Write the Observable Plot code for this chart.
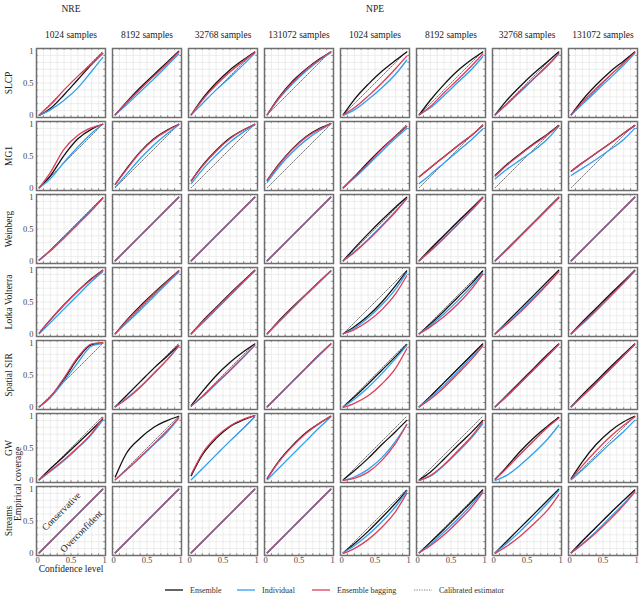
<!DOCTYPE html>
<html>
<head>
<meta charset="utf-8">
<script src="https://cdn.jsdelivr.net/npm/d3@7"></script>
<script src="https://cdn.jsdelivr.net/npm/@observablehq/plot@0.6"></script>
<style>
  html, body { margin: 0; padding: 0; background: #fff; }
  #wrap { position: relative; width: 640px; height: 596px; font-family: "Liberation Serif", "DejaVu Serif", serif; }
  #chart svg, #chart svg text { font-family: "Liberation Serif", "DejaVu Serif", serif !important; }
  #legend { position: absolute; left: 0; top: 583px; width: 640px; height: 14px; font-size: 8px; color: #333; }
  .item { position: absolute; top: 0; display: flex; align-items: center; height: 14px; }
  .item svg { margin-right: 7px; }
</style>
</head>
<body>
<div id="wrap"><div id="chart"></div><div id="legend"></div></div>
<script>
// ---- data ----
const levels = [0.04, 0.2, 0.4, 0.6, 0.8, 0.96];
const rows = ["SLCP", "MG1", "Weinberg", "Lotka Volterra", "Spatial SIR", "GW", "Streams"];
const estimators = ["NRE", "NPE"];
const budgets = [1024, 8192, 32768, 131072];
const methodNames = ["Ensemble", "Individual", "Ensemble bagging"];
const axisTicks = [0, 0.5, 1];
const minorTicks = [0.1, 0.2, 0.3, 0.4, 0.5, 0.6, 0.7, 0.8, 0.9];

// columns: NRE 1024, 8192, 32768, 131072, NPE 1024, 8192, 32768, 131072
const slcpEnsemble = [
  [0.03,0.13,0.33,0.55,0.77,0.93],[0.04,0.22,0.43,0.62,0.81,0.96],[0.04,0.27,0.50,0.69,0.84,0.95],[0.04,0.28,0.52,0.70,0.85,0.95],
  [0.04,0.26,0.48,0.67,0.83,0.95],[0.04,0.25,0.48,0.68,0.84,0.95],[0.04,0.24,0.45,0.64,0.81,0.95],[0.04,0.25,0.47,0.66,0.82,0.95]];
const slcpIndividual = [
  [0.03,0.11,0.25,0.43,0.67,0.87],[0.04,0.18,0.37,0.56,0.76,0.92],[0.04,0.20,0.40,0.58,0.77,0.93],[0.04,0.26,0.48,0.67,0.83,0.94],
  [0.03,0.11,0.26,0.43,0.63,0.83],[0.04,0.14,0.32,0.51,0.70,0.88],[0.04,0.18,0.37,0.56,0.75,0.92],[0.04,0.19,0.38,0.57,0.76,0.93]];
const slcpBagging = [
  [0.04,0.18,0.40,0.60,0.78,0.93],[0.04,0.21,0.41,0.60,0.79,0.95],[0.04,0.25,0.47,0.66,0.82,0.94],[0.04,0.27,0.50,0.69,0.84,0.95],
  [0.04,0.14,0.31,0.50,0.71,0.89],[0.04,0.16,0.36,0.55,0.75,0.92],[0.04,0.19,0.38,0.57,0.76,0.93],[0.04,0.22,0.42,0.61,0.79,0.94]];

const mg1Ensemble = [
  [0.04,0.21,0.51,0.75,0.89,0.96],[0.09,0.31,0.56,0.75,0.88,0.96],[0.14,0.36,0.58,0.76,0.88,0.96],[0.15,0.37,0.60,0.78,0.90,0.97],
  [0.04,0.20,0.41,0.61,0.79,0.93],[0.20,0.33,0.49,0.65,0.80,0.94],[0.22,0.37,0.53,0.68,0.82,0.94],[0.28,0.40,0.54,0.68,0.83,0.94]];
const mg1Individual = [
  [0.04,0.17,0.41,0.63,0.83,0.96],[0.05,0.23,0.46,0.66,0.83,0.95],[0.10,0.30,0.51,0.70,0.85,0.95],[0.12,0.33,0.55,0.73,0.87,0.96],
  [0.04,0.18,0.37,0.57,0.76,0.90],[0.10,0.23,0.40,0.57,0.74,0.89],[0.17,0.30,0.44,0.58,0.75,0.93],[0.22,0.32,0.45,0.59,0.74,0.90]];
const mg1Bagging = [
  [0.04,0.26,0.60,0.80,0.91,0.96],[0.09,0.30,0.55,0.74,0.87,0.96],[0.14,0.35,0.57,0.75,0.88,0.96],[0.15,0.36,0.59,0.77,0.89,0.97],
  [0.04,0.19,0.39,0.60,0.79,0.93],[0.20,0.33,0.49,0.65,0.80,0.95],[0.21,0.36,0.52,0.67,0.81,0.94],[0.28,0.40,0.54,0.68,0.83,0.94]];

const weinbergEnsemble = [
  [0.05,0.19,0.38,0.58,0.78,0.95],[0.04,0.20,0.40,0.60,0.80,0.96],[0.04,0.20,0.40,0.60,0.80,0.96],[0.04,0.20,0.40,0.60,0.80,0.96],
  [0.04,0.22,0.43,0.63,0.82,0.96],[0.04,0.21,0.41,0.61,0.80,0.96],[0.04,0.20,0.40,0.60,0.80,0.96],[0.04,0.20,0.40,0.60,0.80,0.96]];
const weinbergIndividual = [
  [0.05,0.19,0.38,0.58,0.78,0.95],[0.04,0.20,0.40,0.60,0.80,0.96],[0.04,0.20,0.40,0.60,0.80,0.96],[0.04,0.20,0.40,0.60,0.80,0.96],
  [0.04,0.17,0.35,0.55,0.76,0.94],[0.04,0.18,0.37,0.57,0.77,0.95],[0.04,0.19,0.39,0.59,0.79,0.95],[0.04,0.20,0.40,0.60,0.80,0.96]];
const weinbergBagging = [
  [0.05,0.18,0.37,0.57,0.77,0.95],[0.04,0.20,0.40,0.60,0.80,0.96],[0.04,0.20,0.40,0.60,0.80,0.96],[0.04,0.20,0.40,0.60,0.80,0.96],
  [0.04,0.16,0.34,0.54,0.75,0.94],[0.04,0.18,0.37,0.57,0.78,0.95],[0.04,0.19,0.39,0.59,0.79,0.95],[0.04,0.20,0.40,0.60,0.80,0.96]];

const lotkaEnsemble = [
  [0.05,0.24,0.46,0.66,0.84,0.96],[0.04,0.23,0.44,0.63,0.81,0.95],[0.04,0.22,0.42,0.62,0.81,0.96],[0.04,0.22,0.42,0.61,0.80,0.95],
  [0.04,0.14,0.30,0.50,0.74,0.95],[0.04,0.18,0.37,0.57,0.77,0.95],[0.04,0.20,0.40,0.60,0.80,0.96],[0.04,0.21,0.41,0.61,0.80,0.96]];
const lotkaIndividual = [
  [0.04,0.20,0.40,0.60,0.80,0.94],[0.04,0.19,0.38,0.58,0.78,0.93],[0.04,0.19,0.39,0.59,0.79,0.95],[0.04,0.20,0.40,0.60,0.79,0.95],
  [0.04,0.12,0.27,0.46,0.69,0.93],[0.04,0.16,0.33,0.52,0.73,0.92],[0.04,0.18,0.37,0.57,0.77,0.94],[0.04,0.18,0.37,0.57,0.78,0.95]];
const lotkaBagging = [
  [0.05,0.24,0.46,0.66,0.83,0.96],[0.04,0.22,0.42,0.62,0.80,0.95],[0.04,0.21,0.41,0.61,0.80,0.95],[0.04,0.21,0.41,0.61,0.80,0.95],
  [0.04,0.10,0.22,0.39,0.62,0.88],[0.04,0.14,0.29,0.47,0.69,0.90],[0.04,0.17,0.35,0.55,0.76,0.94],[0.04,0.19,0.38,0.58,0.78,0.95]];

const sirEnsemble = [
  [0.04,0.18,0.44,0.74,0.94,0.96],[0.04,0.20,0.40,0.60,0.78,0.93],[0.06,0.26,0.49,0.68,0.84,0.95],[0.04,0.20,0.40,0.60,0.80,0.95],
  [0.04,0.18,0.37,0.57,0.77,0.94],[0.04,0.19,0.39,0.59,0.79,0.95],[0.04,0.20,0.40,0.60,0.80,0.95],[0.04,0.21,0.41,0.61,0.80,0.95]];
const sirIndividual = [
  [0.04,0.17,0.41,0.68,0.92,0.96],[0.04,0.16,0.33,0.53,0.73,0.92],[0.05,0.18,0.37,0.56,0.76,0.93],[0.04,0.20,0.40,0.60,0.79,0.95],
  [0.04,0.15,0.32,0.52,0.74,0.93],[0.04,0.17,0.35,0.55,0.76,0.93],[0.04,0.18,0.38,0.58,0.78,0.94],[0.04,0.19,0.38,0.58,0.78,0.94]];
const sirBagging = [
  [0.04,0.18,0.46,0.76,0.95,0.97],[0.04,0.15,0.32,0.52,0.73,0.92],[0.05,0.19,0.38,0.57,0.77,0.93],[0.04,0.20,0.40,0.60,0.80,0.95],
  [0.03,0.09,0.20,0.37,0.60,0.88],[0.04,0.15,0.32,0.52,0.73,0.92],[0.04,0.19,0.38,0.58,0.78,0.94],[0.04,0.19,0.38,0.58,0.78,0.94]];

const gwEnsemble = [
  [0.04,0.20,0.38,0.57,0.76,0.92],[0.08,0.42,0.64,0.80,0.90,0.96],[0.10,0.40,0.64,0.81,0.91,0.97],[0.06,0.30,0.53,0.72,0.86,0.96],
  [0.04,0.17,0.35,0.55,0.74,0.90],[0.04,0.15,0.34,0.54,0.73,0.90],[0.05,0.22,0.45,0.65,0.82,0.94],[0.06,0.30,0.55,0.74,0.88,0.96]];
const gwIndividual = [
  [0.04,0.16,0.32,0.50,0.70,0.90],[0.04,0.18,0.36,0.55,0.74,0.93],[0.04,0.20,0.40,0.60,0.79,0.95],[0.04,0.20,0.40,0.60,0.80,0.95],
  [0.03,0.08,0.19,0.36,0.60,0.84],[0.03,0.09,0.25,0.44,0.65,0.85],[0.03,0.10,0.25,0.43,0.63,0.83],[0.04,0.18,0.37,0.56,0.74,0.90]];
const gwBagging = [
  [0.04,0.17,0.33,0.51,0.71,0.94],[0.04,0.18,0.37,0.56,0.76,0.94],[0.12,0.42,0.66,0.82,0.92,0.97],[0.06,0.29,0.52,0.71,0.86,0.96],
  [0.03,0.06,0.15,0.32,0.57,0.84],[0.03,0.10,0.26,0.46,0.67,0.88],[0.05,0.20,0.41,0.61,0.80,0.93],[0.05,0.24,0.46,0.66,0.83,0.95]];

const streamsEnsemble = [
  [0.04,0.20,0.40,0.60,0.80,0.96],[0.04,0.20,0.40,0.60,0.80,0.96],[0.04,0.20,0.40,0.60,0.80,0.96],[0.04,0.20,0.40,0.60,0.80,0.96],
  [0.04,0.17,0.35,0.55,0.76,0.94],[0.04,0.19,0.38,0.58,0.78,0.95],[0.04,0.20,0.40,0.60,0.80,0.96],[0.04,0.21,0.41,0.61,0.80,0.95]];
const streamsIndividual = [
  [0.04,0.20,0.40,0.60,0.80,0.96],[0.04,0.20,0.40,0.60,0.80,0.96],[0.04,0.20,0.40,0.60,0.80,0.96],[0.04,0.20,0.40,0.60,0.80,0.96],
  [0.04,0.14,0.30,0.49,0.71,0.93],[0.04,0.16,0.34,0.53,0.74,0.93],[0.04,0.17,0.35,0.55,0.76,0.94],[0.04,0.17,0.35,0.55,0.75,0.93]];
const streamsBagging = [
  [0.04,0.20,0.40,0.60,0.80,0.96],[0.04,0.20,0.40,0.60,0.80,0.96],[0.04,0.20,0.40,0.60,0.80,0.96],[0.04,0.20,0.40,0.60,0.80,0.96],
  [0.03,0.10,0.23,0.41,0.64,0.90],[0.04,0.14,0.30,0.49,0.70,0.91],[0.03,0.13,0.28,0.46,0.66,0.88],[0.04,0.16,0.33,0.52,0.73,0.92]];

const annotations = [
  {label: "Conservative", x: 0.36, y: 0.64},
  {label: "Overconfident", x: 0.65, y: 0.35}
];

// ---- build table ----
const columns = estimators.flatMap(e => budgets.map(b => `${e} ${b}`));
const rowSeries = [
  [slcpEnsemble, slcpIndividual, slcpBagging],
  [mg1Ensemble, mg1Individual, mg1Bagging],
  [weinbergEnsemble, weinbergIndividual, weinbergBagging],
  [lotkaEnsemble, lotkaIndividual, lotkaBagging],
  [sirEnsemble, sirIndividual, sirBagging],
  [gwEnsemble, gwIndividual, gwBagging],
  [streamsEnsemble, streamsIndividual, streamsBagging]
];
const points = [];
rows.forEach((row, r) => {
  rowSeries[r].forEach((arr, m) => {
    columns.forEach((col, c) => {
      levels.forEach((x, i) => points.push({row, col, method: methodNames[m], x, y: arr[c][i]}));
    });
  });
});

const colors = {"Ensemble": "#111111", "Individual": "#2fa0ee", "Ensemble bagging": "#dc3f5c"};
const firstCol = columns[0], lastRow = rows[rows.length - 1];
const groupLabels = [
  {label: "NRE", col: columns[0], row: rows[0]},
  {label: "NPE", col: columns[4], row: rows[0]}
];

const lineMark = (name) => Plot.line(points.filter(d => d.method === name), {
  x: "x", y: "y", fx: "col", fy: "row", stroke: colors[name], strokeWidth: 1.3, curve: "monotone-x"
});
const fmt = d => String(d);
const tickStyle = {tickSize: 0, fontSize: 8.5, fill: "#444", label: null, tickFormat: fmt};

const chart = Plot.plot({
  width: 640,
  height: 580,
  marginLeft: 35,
  marginRight: 2,
  marginTop: 46,
  marginBottom: 23,
  style: {fontFamily: "'Liberation Serif', 'DejaVu Serif', serif", fontSize: "9.5px", color: "#222", background: "#fff"},
  x: {domain: [0, 1]},
  y: {domain: [0, 1]},
  fx: {domain: columns, paddingInner: 0.09, paddingOuter: 0, label: null},
  fy: {domain: rows, paddingInner: 0.055, paddingOuter: 0, label: null},
  marks: [
    Plot.gridX(minorTicks, {stroke: "#e0e0e0", strokeOpacity: 1, strokeWidth: 0.6}),
    Plot.gridY(minorTicks, {stroke: "#e0e0e0", strokeOpacity: 1, strokeWidth: 0.6}),
    Plot.line(levels, {x: d => d, y: d => d, stroke: "#555", strokeWidth: 0.8, strokeDasharray: "1.2,1.3"}),
    lineMark("Ensemble"),
    lineMark("Individual"),
    lineMark("Ensemble bagging"),
    Plot.ruleX(minorTicks, {x: d => d, y1: 0, y2: 0.025, stroke: "#666", strokeWidth: 0.8}),
    Plot.ruleX(minorTicks, {x: d => d, y1: 0.975, y2: 1, stroke: "#666", strokeWidth: 0.8}),
    Plot.ruleY(minorTicks, {y: d => d, x1: 0, x2: 0.025, stroke: "#666", strokeWidth: 0.8}),
    Plot.ruleY(minorTicks, {y: d => d, x1: 0.975, x2: 1, stroke: "#666", strokeWidth: 0.8}),
    Plot.frame({stroke: "#6e6e6e", strokeWidth: 1.5}),
    Plot.axisX([0], {...tickStyle, tickPadding: 1, dx: 1}),
    Plot.axisX([0.5], {...tickStyle, tickPadding: 1}),
    Plot.axisX([1], {...tickStyle, tickPadding: 1, dx: -1}),
    Plot.axisY([0], {...tickStyle, tickPadding: 3, dy: -2.5}),
    Plot.axisY([0.5], {...tickStyle, tickPadding: 3}),
    Plot.axisY([1], {...tickStyle, tickPadding: 3, dy: 2.5}),
    Plot.axisFx({anchor: "top", tickSize: 0, tickPadding: 11, fontSize: 9.5, fill: "#222", label: null,
      tickFormat: d => d.split(" ")[1] + " samples"}),
    Plot.axisFy({anchor: "left", tickSize: 0, tickPadding: 28, fontSize: 9.5, fill: "#222", label: null,
      rotate: -90, textAnchor: "middle"}),
    Plot.text(groupLabels, {fx: "col", fy: "row", text: "label", frameAnchor: "top", dy: -43, fontSize: 9.5, fill: "#222"}),
    Plot.text([{col: firstCol, row: lastRow, label: "Confidence level"}],
      {fx: "col", fy: "row", text: "label", frameAnchor: "bottom", dy: 16.5, fontSize: 9.5, fill: "#222"}),
    Plot.text([{col: firstCol, row: lastRow, label: "Empirical coverage"}],
      {fx: "col", fy: "row", text: "label", frameAnchor: "left", dx: -19, rotate: -90, fontSize: 9.5, fill: "#222"}),
    Plot.text(annotations.map(a => ({...a, col: firstCol, row: lastRow})),
      {fx: "col", fy: "row", x: "x", y: "y", text: "label", rotate: -45, fontSize: 9.5, fill: "#222"})
  ]
});
document.getElementById("chart").appendChild(chart);

// ---- legend ----
const legendItems = [
  {name: "Ensemble", color: colors["Ensemble"], dash: null, left: 165},
  {name: "Individual", color: colors["Individual"], dash: null, left: 237},
  {name: "Ensemble bagging", color: colors["Ensemble bagging"], dash: null, left: 312},
  {name: "Calibrated estimator", color: "#555", dash: "1.2,1.3", left: 414}
];
const legend = document.getElementById("legend");
legendItems.forEach(it => {
  const div = document.createElement("div");
  div.className = "item";
  div.style.left = it.left + "px";
  div.innerHTML = `<svg width="18" height="8"><line x1="0" y1="4" x2="18" y2="4" stroke="${it.color}" stroke-width="${it.dash ? 0.8 : 1.3}" ${it.dash ? `stroke-dasharray="${it.dash}"` : ""}/></svg><span>${it.name}</span>`;
  legend.appendChild(div);
});
</script>
</body>
</html>
